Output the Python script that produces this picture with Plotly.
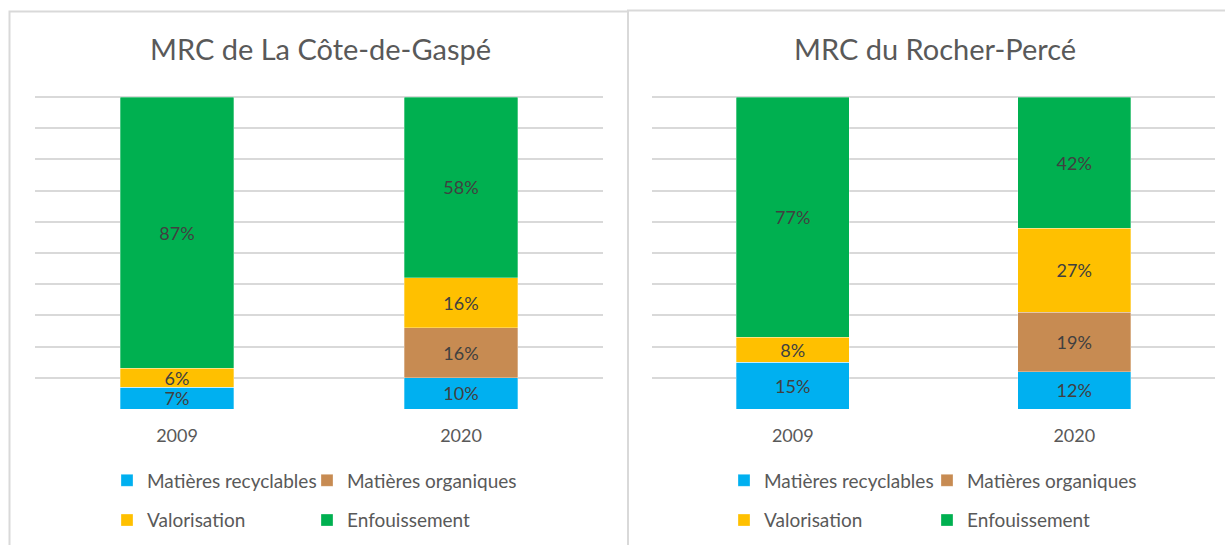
import plotly.graph_objects as go

years = ["2009", "2020"]
series_names = ["Matières recyclables", "Matières organiques", "Valorisation", "Enfouissement"]
colors = ["#00B0F0", "#C78B52", "#FFC000", "#00B050"]

gaspe_recyclables = [7, 10]
gaspe_organiques = [0, 16]
gaspe_valorisation = [6, 16]
gaspe_enfouissement = [87, 58]

rocher_recyclables = [15, 12]
rocher_organiques = [0, 19]
rocher_valorisation = [8, 27]
rocher_enfouissement = [77, 42]

titles = ["MRC de La Côte-de-Gaspé", "MRC du Rocher-Percé"]

W, H = 1225, 545
FONT = "Lato"
GREY = "#595959"

def px_x(v):
    return v / W

def px_y(v):
    return (H - v) / H

fig = go.Figure()

panels = [
    ([gaspe_recyclables, gaspe_organiques, gaspe_valorisation, gaspe_enfouissement], "x", "y", ["legend", "legend2", "legend", "legend2"]),
    ([rocher_recyclables, rocher_organiques, rocher_valorisation, rocher_enfouissement], "x2", "y2", ["legend3", "legend4", "legend3", "legend4"]),
]

for p, (vals, xa, ya, legs) in enumerate(panels):
    for i, (name, v, c, lg) in enumerate(zip(series_names, vals, colors, legs)):
        fig.add_trace(go.Bar(
            x=years, y=v, name=name, xaxis=xa, yaxis=ya, legend=lg,
            legendgroup=f"g{p}{i}",
            marker=dict(color=c, line=dict(width=0.5, color="rgba(255,255,255,0.6)")),
            text=[f"{val}%" if val > 0 else "" for val in v],
            textposition="inside", insidetextanchor="middle", textangle=0,
            constraintext="none",
            textfont=dict(family=FONT, size=18, color="#404040"),
            hoverinfo="skip",
        ))

YMAX = 101
y_dom = [px_y(409), px_y(409 - 3.12 * YMAX)]
axis_common = dict(showline=False, zeroline=False)
fig.update_layout(
    width=W, height=H, barmode="stack", bargap=0.6,
    margin=dict(l=0, r=0, t=0, b=0),
    plot_bgcolor="white", paper_bgcolor="white",
    font=dict(family=FONT, color=GREY),
    xaxis=dict(domain=[px_x(35), px_x(603)], type="category", showgrid=False,
               tickfont=dict(size=18, color=GREY), ticks="", ticklabelstandoff=14, **axis_common),
    xaxis2=dict(domain=[px_x(652), px_x(1215)], type="category", showgrid=False,
                tickfont=dict(size=18, color=GREY), ticks="", ticklabelstandoff=14, **axis_common),
    yaxis=dict(domain=y_dom, range=[0, YMAX], tick0=0, dtick=10, showticklabels=False,
               showgrid=True, gridcolor="#D9D9D9", gridwidth=1.5, **axis_common),
    yaxis2=dict(domain=y_dom, range=[0, YMAX], tick0=0, dtick=10, showticklabels=False,
                showgrid=True, gridcolor="#D9D9D9", gridwidth=1.5, **axis_common),
    showlegend=True,
)

leg_common = dict(orientation="v", xanchor="left", yanchor="middle",
                  font=dict(family=FONT, size=19, color=GREY),
                  bgcolor="rgba(0,0,0,0)", traceorder="grouped", tracegroupgap=12)
ymid = px_y(500.5)
fig.update_layout(
    legend=dict(x=px_x(107), y=ymid, **leg_common),
    legend2=dict(x=px_x(307), y=ymid, **leg_common),
    legend3=dict(x=px_x(724), y=ymid, **leg_common),
    legend4=dict(x=px_x(927), y=ymid, **leg_common),
)

# panel borders
border = dict(color="#D9D9D9", width=2)
fig.add_shape(type="rect", xref="paper", yref="paper",
              x0=px_x(9.5), x1=px_x(628), y0=-0.1, y1=px_y(11.5), line=border, layer="below")
fig.add_shape(type="rect", xref="paper", yref="paper",
              x0=px_x(628), x1=1.1, y0=-0.1, y1=px_y(10.5), line=border, layer="below")

fig.add_annotation(text=titles[0], xref="paper", yref="paper", x=px_x(320), y=px_y(48),
                   showarrow=False, xanchor="center", yanchor="middle",
                   font=dict(family=FONT, size=29, color=GREY))
fig.add_annotation(text=titles[1], xref="paper", yref="paper", x=px_x(935), y=px_y(48),
                   showarrow=False, xanchor="center", yanchor="middle",
                   font=dict(family=FONT, size=29, color=GREY))

fig.write_html("out.html", config={"displayModeBar": False},
               post_script="document.body.style.margin='0';document.body.style.overflow='hidden';")
